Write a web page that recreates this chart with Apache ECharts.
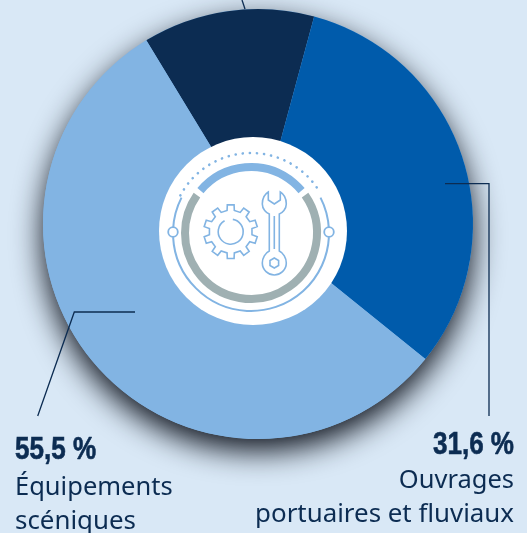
<!DOCTYPE html>
<html><head><meta charset="utf-8">
<style>html,body{margin:0;padding:0;background:#d9e8f6}#c{width:527px;height:533px}</style>
<script src="https://cdn.jsdelivr.net/npm/echarts@6/dist/echarts.min.js"></script>
</head><body><div id="c"></div>
<script>
const categories = ["Autres", "Ouvrages portuaires et fluviaux", "Équipements scéniques"];
const values = [12.9, 31.6, 55.5];
const colors = ["#0c2c52", "#005bab", "#82b4e3"];
const labelLeft = ["55,5 %", "Équipements", "scéniques"];
const labelRight = ["31,6 %", "Ouvrages", "portuaires et fluviaux"];
const NAVY = "#0c2c52", LIGHT = "#82b4e3", GREY = "#9fb0b2";
const cx = 258, cy = 224, ix = 251, iy = 233;
const D = Math.PI/180;
function arc(r, a0, a1, color, w, extra){
  return {type:'arc', z:20, shape:{cx:ix, cy:iy, r:r, startAngle:a0*D, endAngle:a1*D, clockwise:true},
    style:Object.assign({stroke:color, lineWidth:w, fill:null}, extra||{})};
}
function gearPoints(x,y,ro,ri,n){
  const out=[];
  for(let i=0;i<n;i++){
    const s=2*Math.PI/n, a=i*s-Math.PI/2;
    [[ri,a-s*0.27],[ro,a-s*0.2],[ro,a+s*0.2],[ri,a+s*0.27]].forEach(p=>out.push([x+p[0]*Math.cos(p[1]),y+p[0]*Math.sin(p[1])]));
  }
  return out;
}
const wrenchPath = "M-6 -41 L-6 -33 L0 -29 L6 -33 L6 -41 C11 -38 12 -33 12 -29 C12 -24 8 -20 5 -19 L5 18 C9 20 12 25 12 30 C12 37 6 42 0 42 C-6 42 -12 37 -12 30 C-12 25 -9 20 -5 18 L-5 -19 C-8 -20 -12 -24 -12 -29 C-12 -33 -11 -38 -6 -41 Z M0 -17 L0 16";
echarts.graphic.registerShape('wrench', echarts.graphic.extendPath(wrenchPath, {}));
function txt(x, y, s, align, font, sx, extra){
  return {type:'text', z:30, x, y, scaleX:sx, style:Object.assign({x:0, y:0, text:s, align, verticalAlign:'top', fill:NAVY, font}, extra||{})};
}
function textBlock(x, align, top, lines){
  const bold='bold 31px "Liberation Sans",sans-serif', body='25px "Noto Sans",sans-serif';
  return [
    txt(x, top, lines[0], align, bold, 0.84, {stroke:NAVY, lineWidth:0.6}),
    txt(x, top+35, lines[1], align, body, 1.02),
    txt(x, top+69, lines[2], align, body, 1.035)
  ];
}
const chart = echarts.init(document.getElementById('c'), null, {renderer:'canvas'});
chart.setOption({
  animation:false,
  backgroundColor:'#d9e8f6',
  series:[
    {type:'pie', silent:true, center:[cx,cy], radius:[0,215], z:1, label:{show:false}, labelLine:{show:false},
     data:[{value:values.reduce((a,b)=>a+b,0), itemStyle:{color:LIGHT, shadowColor:'rgba(15,20,30,1)', shadowBlur:30, shadowOffsetY:12}}]},
    {type:'pie', silent:true, center:[cx,cy], radius:[0,215], startAngle:121.3, z:2, label:{show:false}, labelLine:{show:false},
     data:categories.map((n,i)=>({name:n, value:values[i], itemStyle:{color:colors[i]}}))}
  ],
  graphic:[
    {type:'circle', z:10, shape:{cx:253, cy:231, r:94}, style:{fill:'#fff'}},
    arc(66,-140,-40,LIGHT,8),
    arc(66,-35,215,GREY,8),
    arc(80,-152,-32,LIGHT,2.6,{lineDash:[0.1,7],lineCap:'round'}),
    arc(78,-27,-3,LIGHT,2),
    arc(78,3,177,LIGHT,2),
    arc(78,183,207,LIGHT,2),
    {type:'circle', z:21, shape:{cx:ix-78, cy:iy-1, r:4.8}, style:{fill:'#fff', stroke:LIGHT, lineWidth:1.8}},
    {type:'circle', z:21, shape:{cx:ix+78, cy:iy-1, r:4.8}, style:{fill:'#fff', stroke:LIGHT, lineWidth:1.8}},
    {type:'polygon', z:21, shape:{points:gearPoints(230.7,231.7,27,21.5,10)}, style:{fill:'none', stroke:LIGHT, lineWidth:1.6}},
    {type:'arc', z:21, shape:{cx:230.7, cy:231.7, r:12.5, startAngle:-1.4, endAngle:4.2}, style:{stroke:LIGHT, lineWidth:1.6, fill:null}},
    {type:'wrench', z:21, x:274.3, y:233, style:{fill:'none', stroke:LIGHT, lineWidth:1.6}},
    {type:'polygon', z:21, shape:{points:[[274.3,258],[278.6,260.5],[278.6,265.5],[274.3,268],[270,265.5],[270,260.5]]}, style:{fill:'none', stroke:LIGHT, lineWidth:1.6}},
    {type:'polyline', z:25, shape:{points:[[135,312],[74.3,312],[37.7,416]]}, style:{stroke:NAVY, lineWidth:1.3, fill:null}},
    {type:'polyline', z:25, shape:{points:[[445,183.7],[489,183.7],[489,416]]}, style:{stroke:NAVY, lineWidth:1.3, fill:null}},
    {type:'line', z:25, shape:{x1:242,y1:0,x2:245,y2:9}, style:{stroke:NAVY, lineWidth:1.3}},
    ...textBlock(15,'left',435,labelLeft).map((t,i)=>{ if(i>0) t.y+=5; return t; }),
    ...textBlock(514,'right',430,labelRight).map((t,i)=>{ if(i>0) t.y+=3; return t; })
  ]
});
</script></body></html>
